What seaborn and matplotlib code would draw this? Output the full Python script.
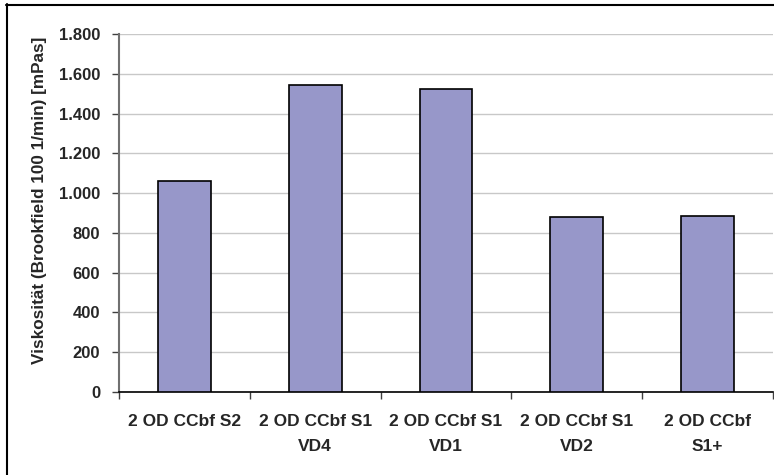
import matplotlib
matplotlib.use("Agg")
import matplotlib.pyplot as plt
import seaborn as sns
import pandas as pd
from matplotlib.ticker import FuncFormatter, FixedLocator
from matplotlib.lines import Line2D

categories = ["2 OD CCbf S2", "2 OD CCbf S1\nVD4", "2 OD CCbf S1\nVD1",
              "2 OD CCbf S1\nVD2", "2 OD CCbf\nS1+"]
values = [1060, 1543, 1523, 882, 887]
y_ticks = [0, 200, 400, 600, 800, 1000, 1200, 1400, 1600, 1800]
y_label = "Viskosität (Brookfield 100 1/min) [mPas]"

sns.set_theme(style="white")
plt.rcParams['font.family'] = ['Liberation Sans', 'DejaVu Sans']

W, H = 774, 475
fig = plt.figure(figsize=(W / 100, H / 100), dpi=100)
ax = fig.add_axes([119 / W, (H - 392) / H, 654 / W, 358 / H])

df = pd.DataFrame({"cat": categories, "val": values})
sns.barplot(data=df, x="cat", y="val", color="#9797C9", saturation=1,
            edgecolor="black", linewidth=1.2, width=0.405, ax=ax, zorder=3)

ax.set_xlim(-0.5, len(categories) - 0.5)
ax.set_ylim(0, 1800)
ax.yaxis.set_major_locator(FixedLocator(y_ticks))
ax.yaxis.set_major_formatter(FuncFormatter(lambda v, p: f"{int(v):,}".replace(",", ".")))
ax.grid(axis="y", color="#c8c8c8", linewidth=1.0, zorder=0)
ax.set_axisbelow(True)

# x ticks at category boundaries, labels at centers
ax.xaxis.set_major_locator(FixedLocator([i - 0.5 for i in range(len(categories) + 1)]))
ax.xaxis.set_major_formatter(FuncFormatter(lambda v, p: ""))
ax.set_xticks(list(range(len(categories))), categories, minor=True)
ax.tick_params(axis="x", which="major", direction="out", length=5, width=1, color="#404040", bottom=True)
ax.tick_params(axis="x", which="minor", length=0, pad=16, labelsize=12.5, bottom=True)
for t in ax.get_xticklabels(minor=True):
    t.set_fontweight("bold")
    t.set_linespacing(1.8)
    t.set_verticalalignment("top")

ax.tick_params(axis="y", direction="out", length=5, width=1, color="#404040", left=True,
               labelsize=12, pad=8.5)
for t in ax.get_yticklabels():
    t.set_fontweight("bold")

ax.set_xlabel("")
ax.set_ylabel("")
fig.text(40 / W, 1 - 200 / H, y_label, rotation=90, ha="center", va="center",
         fontsize=12.3, fontweight="bold")

for s in ["top", "right"]:
    ax.spines[s].set_visible(False)
ax.spines["left"].set_color("#707070")
ax.spines["left"].set_linewidth(1.5)
ax.spines["bottom"].set_color("black")
ax.spines["bottom"].set_linewidth(1.2)

# outer chart frame (left and top visible)
fig.add_artist(Line2D([6.5 / W, 6.5 / W], [0, 1 - 4 / H], transform=fig.transFigure,
                      color="black", linewidth=1.5))
fig.add_artist(Line2D([6 / W, 1], [1 - 4.5 / H, 1 - 4.5 / H], transform=fig.transFigure,
                      color="black", linewidth=1.5))

fig.savefig("out.png", dpi=100)
